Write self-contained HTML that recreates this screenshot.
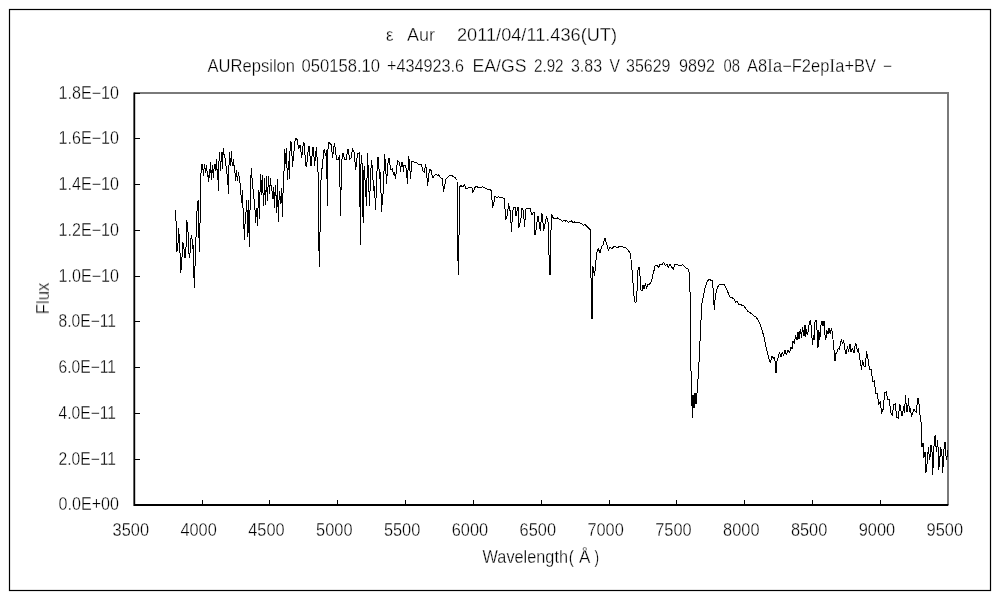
<!DOCTYPE html>
<html><head><meta charset="utf-8"><style>
html,body{margin:0;padding:0;background:#fff;}
svg{display:block;font-family:"Liberation Sans", sans-serif;}
text{will-change:transform;}
</style></head><body>
<svg width="1000" height="600" viewBox="0 0 1000 600">
<rect x="0" y="0" width="1000" height="600" fill="#fff"/>
<rect x="9.5" y="9.5" width="981" height="581" fill="none" stroke="#000" stroke-width="1.2"/>
<path d="M134.3,93 H948 V505" fill="none" stroke="#7a7a7a" stroke-width="2"/>
<path d="M134.3,92.5 V505 H948.3" fill="none" stroke="#000" stroke-width="1.8"/>
<path d="M134,459.50 H140 M134,413.50 H140 M134,367.50 H140 M134,321.50 H140 M134,276.50 H140 M134,230.50 H140 M134,184.50 H140 M134,138.50 H140 M134,93.50 H140 M202.50,505 V500 M269.50,505 V500 M337.50,505 V500 M405.50,505 V500 M473.50,505 V500 M541.50,505 V500 M609.50,505 V500 M676.50,505 V500 M744.50,505 V500 M812.50,505 V500 M880.50,505 V500" stroke="#000" stroke-width="1" fill="none" shape-rendering="crispEdges"/>
<path d="M175.8,210.0 L176.6,252.0 L177.8,249.0 L178.6,228.0 L179.8,245.0 L180.6,273.0 L181.8,263.0 L182.6,242.0 L183.8,246.0 L184.6,258.0 L185.8,257.0 L186.6,220.0 L187.8,225.0 L188.6,251.0 L189.8,258.0 L190.6,239.0 L191.8,235.0 L192.6,249.0 L193.4,245.0 L194.2,288.0 L195.5,254.0 L196.5,221.0 L197.5,202.0 L198.3,200.0 L198.8,230.0 L199.4,252.0 L200.2,215.0 L200.7,186.0 L201.2,165.0 L202.6,164.0 L203.4,176.0 L203.6,175.0 L204.4,164.0 L204.6,165.0 L205.4,171.0 L205.6,172.5 L206.4,165.0 L206.6,167.5 L207.4,175.0 L207.6,172.5 L208.4,182.0 L208.6,180.0 L209.4,170.0 L209.6,177.5 L210.4,162.0 L210.6,165.0 L211.4,180.0 L211.6,176.0 L212.4,165.0 L212.6,167.5 L213.4,177.5 L213.6,175.0 L214.4,164.0 L214.6,165.0 L215.4,171.0 L215.6,170.0 L216.4,159.0 L216.6,165.0 L217.4,175.0 L217.6,169.0 L218.4,190.6 L218.6,170.0 L219.4,152.5 L219.6,152.5 L220.4,169.0 L220.6,170.6 L221.4,154.0 L221.6,152.5 L222.4,169.0 L222.6,156.0 L223.4,148.0 L224.0,155.0 L224.6,154.0 L225.4,161.0 L225.6,161.0 L226.4,170.0 L226.6,170.0 L227.4,177.5 L227.6,175.0 L228.4,194.0 L228.6,176.0 L229.4,155.0 L229.6,152.5 L230.4,165.0 L230.6,165.0 L231.4,151.0 L231.6,159.0 L232.4,165.0 L232.6,166.0 L233.4,159.0 L234.0,165.8 L234.6,166.0 L235.4,180.0 L235.6,181.0 L236.4,170.0 L236.6,172.5 L237.4,181.0 L238.0,175.8 L238.6,172.0 L239.4,180.0 L239.6,177.5 L240.4,187.5 L240.6,187.5 L241.4,201.0 L241.6,202.5 L242.4,190.0 L242.6,201.0 L243.4,215.0 L243.6,218.5 L244.4,239.5 L244.6,230.5 L245.4,218.5 L245.6,223.0 L246.4,202.0 L246.6,200.5 L247.4,220.0 L247.6,236.5 L248.4,200.5 L248.6,218.5 L249.4,247.0 L249.6,241.0 L250.4,181.0 L250.6,182.5 L251.4,168.0 L251.6,168.0 L252.4,187.0 L252.6,182.5 L253.4,194.5 L253.6,191.5 L254.4,206.5 L254.6,200.5 L255.4,218.5 L255.6,223.0 L256.4,209.5 L256.6,208.0 L257.4,226.0 L257.6,218.5 L258.4,199.0 L258.6,190.0 L259.4,218.5 L259.6,202.0 L260.4,182.5 L260.6,174.0 L261.4,194.5 L261.6,185.5 L262.4,175.0 L262.6,181.0 L263.4,205.0 L263.6,205.0 L264.4,185.5 L264.6,178.0 L265.4,202.0 L265.6,205.0 L266.4,176.5 L266.6,182.5 L267.4,200.5 L267.6,199.0 L268.4,176.5 L268.6,179.5 L269.4,193.0 L269.6,193.0 L270.4,178.0 L270.6,181.0 L271.4,190.0 L271.6,185.5 L272.4,196.0 L272.6,199.0 L273.4,187.0 L273.6,190.0 L274.4,208.0 L274.6,199.0 L275.4,185.5 L275.6,188.5 L276.4,203.5 L276.6,212.5 L277.4,179.5 L277.6,190.0 L278.4,221.5 L278.6,209.5 L279.4,191.5 L279.6,191.5 L280.4,202.0 L280.6,203.5 L281.4,190.0 L281.6,188.5 L282.4,217.0 L282.6,199.0 L283.4,187.0 L283.6,187.0 L284.4,155.0 L284.6,149.0 L285.4,164.0 L285.6,158.0 L286.4,148.0 L286.6,155.0 L287.4,179.5 L287.6,178.0 L288.4,161.0 L288.6,161.0 L289.4,179.0 L289.6,161.0 L290.4,141.0 L291.6,144.0 L292.4,167.0 L294.6,145.0 L295.4,138.0 L297.6,140.0 L298.4,149.0 L300.0,145.5 L300.6,145.0 L301.4,158.0 L302.6,151.0 L303.4,142.0 L304.6,145.0 L305.4,165.0 L306.6,167.0 L307.4,157.0 L307.6,158.0 L308.4,147.0 L309.6,146.0 L310.4,165.0 L311.6,166.0 L312.4,147.0 L313.6,147.0 L314.4,166.0 L315.6,156.0 L316.4,147.0 L318.0,172.0 L318.7,195.0 L319.1,266.0 L319.8,266.0 L320.2,205.0 L321.0,180.0 L322.0,168.0 L322.6,168.0 L323.4,151.0 L324.6,149.0 L325.4,156.0 L326.6,150.0 L327.4,206.0 L327.6,157.0 L328.4,142.0 L330.0,143.5 L331.6,145.0 L332.4,158.0 L333.6,150.0 L334.4,143.0 L335.6,150.0 L336.4,159.0 L338.0,160.0 L339.6,155.0 L340.4,216.0 L341.6,165.0 L342.4,154.0 L343.6,153.0 L344.4,160.0 L346.6,159.0 L347.4,150.0 L348.6,149.0 L349.4,160.0 L351.6,157.0 L352.4,148.0 L354.6,154.0 L355.4,170.0 L356.6,163.0 L357.4,154.0 L359.3,153.0 L360.1,214.0 L360.3,245.0 L361.1,155.0 L362.3,166.0 L363.1,223.0 L363.3,200.0 L364.1,166.0 L364.6,173.0 L365.4,187.0 L366.6,206.0 L367.4,153.0 L368.6,176.0 L369.4,206.0 L370.6,176.0 L371.4,160.0 L372.6,169.0 L373.4,191.0 L374.6,186.0 L375.4,210.0 L376.6,186.0 L377.4,157.0 L378.6,158.0 L379.4,179.0 L380.6,172.0 L381.4,212.0 L383.6,188.0 L384.4,154.0 L385.6,164.0 L386.4,184.0 L387.6,168.0 L388.4,158.0 L389.6,159.0 L390.4,170.0 L392.6,169.0 L393.4,175.0 L394.6,172.0 L395.4,179.0 L396.6,170.0 L397.4,160.0 L399.6,163.0 L400.4,169.0 L400.6,172.0 L401.4,162.0 L402.6,162.0 L403.4,172.0 L404.0,165.0 L405.6,165.0 L406.4,171.0 L407.6,184.0 L408.4,156.0 L409.6,162.0 L410.4,179.0 L412.0,161.5 L413.5,161.5 L415.0,162.5 L416.5,162.3 L418.0,164.0 L421.6,164.0 L422.4,170.0 L424.6,173.0 L425.4,164.0 L426.6,169.0 L427.4,186.0 L428.6,178.0 L429.4,169.0 L431.6,171.0 L432.4,178.0 L436.0,174.0 L437.3,175.4 L438.7,174.9 L440.0,177.0 L442.6,179.0 L443.4,192.0 L446.0,179.0 L447.3,177.9 L448.7,176.3 L450.0,175.5 L451.7,175.0 L453.3,176.9 L455.0,177.5 L457.0,180.0 L457.6,240.0 L458.3,274.0 L458.8,274.0 L459.3,186.0 L459.8,187.0 L461.0,185.5 L463.0,187.0 L464.3,184.5 L466.0,189.0 L468.0,187.8 L470.0,188.0 L471.9,187.0 L472.7,192.5 L475.0,187.5 L476.5,186.3 L478.0,187.5 L479.5,187.3 L481.0,187.5 L482.5,186.4 L484.0,187.5 L485.5,188.5 L488.0,189.2 L490.5,190.0 L491.6,191.0 L492.4,208.0 L494.1,202.0 L494.9,196.5 L497.0,197.8 L498.5,196.8 L500.0,198.0 L501.5,197.8 L503.0,198.0 L504.6,198.0 L505.4,220.0 L507.6,215.0 L508.4,203.5 L510.6,213.0 L511.4,231.5 L512.6,213.0 L513.4,207.0 L515.1,207.0 L515.9,216.0 L518.1,207.0 L518.9,228.0 L521.1,218.0 L521.9,208.0 L523.6,211.0 L524.4,227.0 L526.0,209.0 L528.0,208.0 L530.6,208.0 L531.4,215.0 L534.1,212.0 L534.9,235.0 L536.6,228.0 L537.4,216.0 L538.6,217.0 L539.4,226.0 L540.6,231.0 L541.4,213.7 L542.6,215.0 L543.4,231.0 L545.6,222.0 L546.4,216.0 L548.0,222.0 L549.6,274.0 L550.2,274.0 L551.3,214.0 L553.0,217.5 L554.5,218.8 L556.0,218.5 L557.3,217.9 L558.7,218.6 L560.0,219.7 L561.3,220.3 L562.7,221.4 L564.0,220.5 L565.5,221.0 L567.0,220.7 L568.5,222.5 L570.0,221.5 L571.5,220.7 L573.0,223.1 L574.5,222.0 L576.0,222.8 L577.5,222.2 L579.0,222.4 L580.5,223.2 L582.0,224.0 L583.3,225.3 L584.7,224.2 L586.0,225.5 L588.5,228.0 L590.3,230.0 L591.2,290.0 L591.7,318.0 L592.1,318.0 L592.8,266.0 L594.5,276.0 L595.3,268.0 L596.3,257.0 L597.3,250.0 L598.3,248.7 L600.0,253.0 L601.5,247.0 L603.0,245.0 L604.2,240.0 L605.0,238.5 L606.0,242.0 L607.5,247.0 L608.5,250.5 L610.0,247.0 L612.0,249.0 L614.0,246.0 L617.0,247.5 L620.0,246.5 L623.0,247.0 L626.0,248.0 L628.5,250.5 L630.5,254.0 L632.0,270.0 L633.0,283.0 L634.2,298.0 L635.0,302.0 L636.0,302.0 L637.0,291.0 L638.0,270.0 L639.0,267.0 L640.0,276.0 L641.0,290.0 L642.0,291.0 L643.0,285.0 L644.0,289.0 L645.5,283.0 L646.5,288.5 L647.5,284.5 L649.0,285.0 L650.5,283.0 L651.8,280.0 L652.7,275.0 L654.0,270.5 L655.0,266.0 L657.0,265.5 L658.5,267.5 L660.0,264.5 L662.0,264.5 L663.5,262.5 L665.5,265.5 L667.0,264.5 L668.5,267.5 L670.0,264.0 L671.3,266.5 L673.3,269.5 L675.0,264.5 L678.0,265.0 L681.0,265.5 L683.0,264.8 L685.5,267.5 L688.0,269.0 L689.0,272.0 L689.8,276.0 L690.5,330.0 L691.2,385.0 L692.5,418.0 L693.0,395.0 L694.0,408.0 L695.0,393.0 L696.0,404.0 L697.2,391.0 L698.7,369.0 L700.2,337.0 L701.0,320.0 L701.8,304.0 L703.0,298.0 L704.5,290.0 L706.0,285.0 L707.5,281.0 L709.0,279.5 L710.5,280.0 L712.3,280.0 L713.2,290.0 L714.0,305.0 L714.6,310.0 L715.0,300.0 L716.0,293.0 L717.3,288.0 L718.5,285.5 L720.0,284.3 L722.0,285.0 L724.0,284.5 L725.5,287.0 L727.0,290.0 L729.0,295.0 L730.5,297.5 L732.5,298.0 L734.0,299.0 L735.5,302.0 L737.0,301.0 L739.0,304.5 L741.5,305.0 L744.0,306.0 L746.0,309.0 L748.0,311.5 L750.0,312.5 L752.0,314.0 L754.0,316.0 L756.0,317.0 L757.5,319.0 L759.0,322.0 L760.5,325.0 L762.0,330.0 L764.0,337.0 L766.0,347.0 L768.0,355.0 L769.5,361.0 L770.5,363.0 L771.5,357.0 L772.5,356.5 L773.5,358.5 L774.5,358.0 L775.3,363.0 L776.0,373.0 L776.8,362.0 L778.0,358.0 L779.5,352.5 L781.0,357.0 L782.3,352.0 L783.5,356.0 L785.0,350.5 L786.5,355.0 L788.0,350.0 L789.5,353.0 L790.8,347.0 L792.0,349.0 L793.0,341.0 L794.5,344.0 L795.5,335.0 L797.0,340.0 L798.0,332.0 L799.0,339.0 L800.3,329.0 L801.5,338.0 L802.5,327.0 L804.0,336.0 L805.0,325.0 L805.7,337.0 L806.5,329.0 L807.5,335.0 L808.5,329.0 L809.5,322.0 L810.5,320.0 L811.3,328.0 L812.5,345.0 L813.3,335.0 L814.0,340.0 L815.0,322.0 L816.0,320.0 L817.0,330.0 L818.0,348.0 L818.8,330.0 L819.8,340.0 L821.0,325.0 L822.0,321.0 L823.0,326.0 L824.0,321.0 L825.0,335.0 L825.8,340.0 L826.8,330.0 L828.0,334.0 L829.0,328.0 L830.3,334.0 L831.5,328.0 L832.5,334.0 L834.0,350.0 L835.0,361.0 L835.8,354.0 L837.0,352.0 L838.2,348.0 L839.5,349.0 L840.5,344.0 L841.5,339.0 L842.5,344.0 L843.5,340.0 L845.0,350.0 L846.0,354.0 L847.5,346.0 L848.5,352.0 L850.0,344.0 L851.0,352.0 L852.5,348.0 L854.0,353.0 L855.5,343.0 L856.5,345.0 L857.5,352.0 L858.5,348.0 L859.5,357.0 L860.5,362.0 L861.5,370.0 L862.5,360.0 L864.0,366.0 L865.6,366.0 L866.4,351.0 L868.6,362.0 L869.4,369.0 L871.6,369.0 L872.4,382.0 L874.6,381.0 L875.4,393.0 L877.6,393.0 L878.4,405.0 L880.6,401.0 L881.4,414.0 L883.6,408.0 L884.4,393.0 L886.6,392.0 L887.4,399.0 L889.6,399.0 L890.4,412.0 L892.6,416.0 L893.4,405.0 L895.6,404.0 L896.4,417.0 L898.6,418.0 L899.4,404.0 L900.6,407.0 L901.4,415.0 L902.6,416.0 L903.4,406.0 L904.6,413.0 L905.4,395.0 L905.6,395.0 L906.4,411.0 L907.6,412.0 L908.4,398.0 L908.6,399.0 L909.4,412.0 L910.6,408.0 L911.4,417.0 L914.0,409.5 L916.6,413.0 L917.4,398.0 L918.5,398.0 L920.0,415.0 L921.1,423.0 L921.9,447.0 L923.1,443.0 L923.9,458.0 L925.1,452.0 L925.9,473.0 L927.1,463.0 L927.9,453.0 L928.6,447.0 L929.4,460.0 L930.1,456.0 L930.9,445.0 L931.9,448.0 L932.7,475.0 L933.6,455.0 L934.4,437.0 L935.4,435.0 L936.2,450.0 L936.6,452.0 L937.4,440.0 L937.9,443.0 L938.7,470.0 L939.8,460.0 L940.6,447.0 L941.9,453.0 L942.7,473.0 L943.6,455.0 L944.4,443.0 L945.4,442.0 L946.2,460.0 L946.9,458.0 L947.7,450.0" fill="none" stroke="#000" stroke-width="1.0" stroke-linejoin="miter" stroke-miterlimit="2" shape-rendering="crispEdges"/>
<g fill="#000" stroke="#fff" stroke-width="0.3">
<text x="386.00" y="40.80" font-size="17.5" textLength="7.50" lengthAdjust="spacingAndGlyphs" >ε</text>
<text x="407.00" y="40.80" font-size="17.5" textLength="28.00" lengthAdjust="spacingAndGlyphs" >Aur</text>
<text x="457.00" y="40.80" font-size="17.5" textLength="160.00" lengthAdjust="spacingAndGlyphs" >2011/04/11.436(UT)</text>
<text x="207.50" y="71.80" font-size="17.5" textLength="87.50" lengthAdjust="spacingAndGlyphs" >AURepsilon</text>
<text x="301.50" y="71.80" font-size="17.5" textLength="78.50" lengthAdjust="spacingAndGlyphs" >050158.10</text>
<text x="387.00" y="71.80" font-size="17.5" textLength="77.00" lengthAdjust="spacingAndGlyphs" >+434923.6</text>
<text x="472.50" y="71.80" font-size="17.5" textLength="54.00" lengthAdjust="spacingAndGlyphs" >EA/GS</text>
<text x="534.00" y="71.80" font-size="17.5" textLength="29.50" lengthAdjust="spacingAndGlyphs" >2.92</text>
<text x="571.00" y="71.80" font-size="17.5" textLength="31.00" lengthAdjust="spacingAndGlyphs" >3.83</text>
<text x="609.50" y="71.80" font-size="17.5" textLength="10.50" lengthAdjust="spacingAndGlyphs" >V</text>
<text x="626.00" y="71.80" font-size="17.5" textLength="44.50" lengthAdjust="spacingAndGlyphs" >35629</text>
<text x="679.00" y="71.80" font-size="17.5" textLength="36.00" lengthAdjust="spacingAndGlyphs" >9892</text>
<text x="723.50" y="71.80" font-size="17.5" textLength="16.50" lengthAdjust="spacingAndGlyphs" >08</text>
<text x="747.00" y="71.80" font-size="17.5" textLength="129.00" lengthAdjust="spacingAndGlyphs" >A8<tspan font-family='Liberation Serif' font-size='19'>I</tspan>a−F2ep<tspan font-family='Liberation Serif' font-size='19'>I</tspan>a+BV</text>
<text x="883.00" y="71.80" font-size="17.5" textLength="9.00" lengthAdjust="spacingAndGlyphs" >−</text>
<text x="58.60" y="510.00" font-size="17.5" textLength="60.40" lengthAdjust="spacingAndGlyphs" >0.0E+00</text>
<text x="58.60" y="465.00" font-size="17.5" textLength="57.40" lengthAdjust="spacingAndGlyphs" >2.0E−11</text>
<text x="58.60" y="419.00" font-size="17.5" textLength="57.40" lengthAdjust="spacingAndGlyphs" >4.0E−11</text>
<text x="58.60" y="373.00" font-size="17.5" textLength="57.40" lengthAdjust="spacingAndGlyphs" >6.0E−11</text>
<text x="58.60" y="327.00" font-size="17.5" textLength="57.40" lengthAdjust="spacingAndGlyphs" >8.0E−11</text>
<text x="58.60" y="282.00" font-size="17.5" textLength="60.40" lengthAdjust="spacingAndGlyphs" >1.0E−10</text>
<text x="58.60" y="236.00" font-size="17.5" textLength="60.40" lengthAdjust="spacingAndGlyphs" >1.2E−10</text>
<text x="58.60" y="190.00" font-size="17.5" textLength="60.40" lengthAdjust="spacingAndGlyphs" >1.4E−10</text>
<text x="58.60" y="144.00" font-size="17.5" textLength="60.40" lengthAdjust="spacingAndGlyphs" >1.6E−10</text>
<text x="58.60" y="99.00" font-size="17.5" textLength="60.40" lengthAdjust="spacingAndGlyphs" >1.8E−10</text>
<text x="112.60" y="535.80" font-size="17.5" textLength="36.40" lengthAdjust="spacingAndGlyphs" >3500</text>
<text x="180.43" y="535.80" font-size="17.5" textLength="36.40" lengthAdjust="spacingAndGlyphs" >4000</text>
<text x="248.27" y="535.80" font-size="17.5" textLength="36.40" lengthAdjust="spacingAndGlyphs" >4500</text>
<text x="316.10" y="535.80" font-size="17.5" textLength="36.40" lengthAdjust="spacingAndGlyphs" >5000</text>
<text x="383.93" y="535.80" font-size="17.5" textLength="36.40" lengthAdjust="spacingAndGlyphs" >5500</text>
<text x="451.77" y="535.80" font-size="17.5" textLength="36.40" lengthAdjust="spacingAndGlyphs" >6000</text>
<text x="519.60" y="535.80" font-size="17.5" textLength="36.40" lengthAdjust="spacingAndGlyphs" >6500</text>
<text x="587.43" y="535.80" font-size="17.5" textLength="36.40" lengthAdjust="spacingAndGlyphs" >7000</text>
<text x="655.27" y="535.80" font-size="17.5" textLength="36.40" lengthAdjust="spacingAndGlyphs" >7500</text>
<text x="723.10" y="535.80" font-size="17.5" textLength="36.40" lengthAdjust="spacingAndGlyphs" >8000</text>
<text x="790.93" y="535.80" font-size="17.5" textLength="36.40" lengthAdjust="spacingAndGlyphs" >8500</text>
<text x="858.77" y="535.80" font-size="17.5" textLength="36.40" lengthAdjust="spacingAndGlyphs" >9000</text>
<text x="926.60" y="535.80" font-size="17.5" textLength="36.40" lengthAdjust="spacingAndGlyphs" >9500</text>
<text x="482.60" y="562.70" font-size="17.5" textLength="85.40" lengthAdjust="spacingAndGlyphs" >Wavelength</text>
<text x="568.70" y="562.70" font-size="17.5" textLength="5.10" lengthAdjust="spacingAndGlyphs" >(</text>
<text x="579.00" y="562.70" font-size="17.5" textLength="11.40" lengthAdjust="spacingAndGlyphs" >Å</text>
<text x="594.40" y="562.70" font-size="17.5" textLength="4.60" lengthAdjust="spacingAndGlyphs" >)</text>
<text x="0" y="0" font-size="17.5" textLength="31.5" lengthAdjust="spacingAndGlyphs" transform="translate(49,314.3) rotate(-90)">Flux</text>
</g>
</svg>
</body></html>
